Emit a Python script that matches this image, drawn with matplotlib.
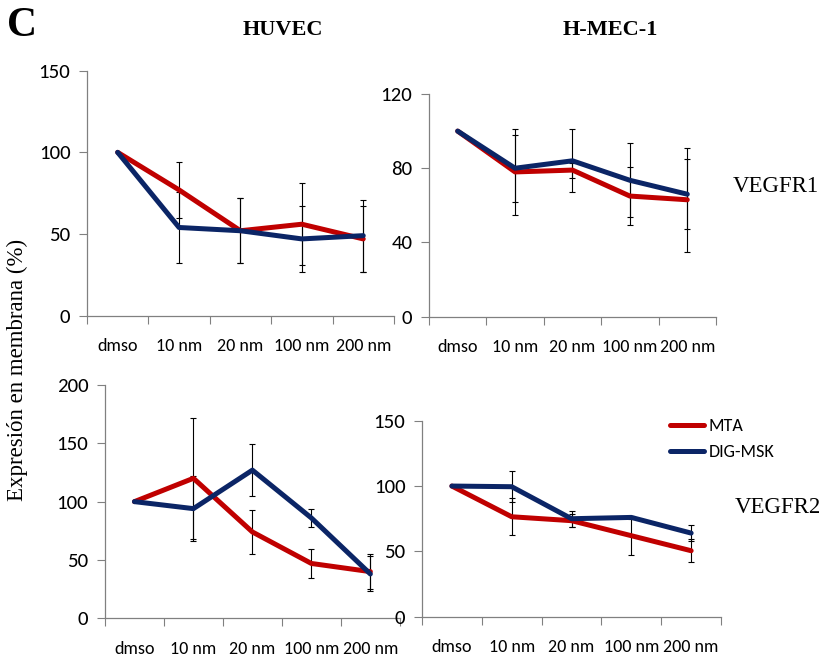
import matplotlib.pyplot as plt
import numpy as np

# categorias y datos
cats = ["dmso", "10 nm", "20 nm", "100 nm", "200 nm"]

huvec_r1_mta = [100, 77, 52, 56, 47]
huvec_r1_mta_err = [0, 17, 20, 25, 20]
huvec_r1_dig = [100, 54, 52, 47, 49]
huvec_r1_dig_err = [0, 22, 20, 20, 22]

hmec_r1_mta = [100, 78, 79, 65, 63]
hmec_r1_mta_err = [0, 23, 4, 15.5, 28]
hmec_r1_dig = [100, 80, 84, 73.5, 66]
hmec_r1_dig_err = [0, 18, 17, 20, 19]

huvec_r2_mta = [100, 120, 74, 47, 40]
huvec_r2_mta_err = [0, 52, 19, 12.5, 15]
huvec_r2_dig = [100, 94, 127, 86, 38]
huvec_r2_dig_err = [0, 28, 22, 8, 15]

hmec_r2_mta = [100, 76.5, 73.5, 62, 50.5]
hmec_r2_mta_err = [0, 14, 5, 14.5, 9]
hmec_r2_dig = [100, 99.5, 75, 76, 64]
hmec_r2_dig_err = [0, 12, 6, 1, 6]

red = '#C00000'
navy = '#0B2566'
tickfont = ['Carlito', 'DejaVu Sans']

fig = plt.figure(figsize=(8.33, 6.61), dpi=100)

def panel(rect, mta, mta_err, dig, dig_err, ymax, ystep):
    ax = fig.add_axes(rect)
    x = np.arange(len(cats)) + 0.5
    ax.errorbar(x[1:], mta[1:], yerr=mta_err[1:], fmt='none', ecolor='black',
                elinewidth=0.8, capsize=2.5, capthick=0.8, zorder=1)
    ax.errorbar(x[1:], dig[1:], yerr=dig_err[1:], fmt='none', ecolor='black',
                elinewidth=0.8, capsize=2.5, capthick=0.8, zorder=1)
    ax.plot(x, mta, color=red, lw=3.6, label='MTA', zorder=2, solid_capstyle='round')
    ax.plot(x, dig, color=navy, lw=3.6, label='DIG-MSK', zorder=3, solid_capstyle='round')
    ax.set_xlim(0, len(cats))
    ax.set_ylim(0, ymax)
    ax.set_yticks(np.arange(0, ymax + 1, ystep))
    ax.set_xticks(np.arange(len(cats) + 1))
    ax.set_xticklabels([])
    ax.set_xticks(x, minor=True)
    ax.set_xticklabels(cats, minor=True, fontsize=13, family=tickfont)
    ax.tick_params(axis='x', which='major', length=6, direction='out', color='#808080')
    ax.tick_params(axis='x', which='minor', length=0, pad=16)
    ax.tick_params(axis='y', length=6, color='#808080', pad=6)
    for lab in ax.get_yticklabels():
        lab.set_fontsize(15)
        lab.set_family(tickfont)
    for s in ['top', 'right']:
        ax.spines[s].set_visible(False)
    for s in ['left', 'bottom']:
        ax.spines[s].set_color('#808080')
        ax.spines[s].set_linewidth(0.9)
    return ax

panel([0.1044, 0.5224, 0.3685, 0.3707], huvec_r1_mta, huvec_r1_mta_err,
      huvec_r1_dig, huvec_r1_dig_err, 150, 50)
panel([0.515, 0.5209, 0.3445, 0.3369], hmec_r1_mta, hmec_r1_mta_err,
      hmec_r1_dig, hmec_r1_dig_err, 120, 40)
panel([0.126, 0.0646, 0.354, 0.353], huvec_r2_mta, huvec_r2_mta_err,
      huvec_r2_dig, huvec_r2_dig_err, 200, 50)
ax4 = panel([0.5066, 0.067, 0.359, 0.2965], hmec_r2_mta, hmec_r2_mta_err,
            hmec_r2_dig, hmec_r2_dig_err, 150, 50)

leg = ax4.legend(loc='upper left', bbox_to_anchor=(0.785, 0.392), bbox_transform=fig.transFigure,
                 frameon=False, handlelength=1.9, handletextpad=0.25, labelspacing=0.55,
                 prop={'family': tickfont, 'size': 13})

serif = 'Liberation Serif'
fig.text(0.008, 0.960, 'C', fontsize=30, fontweight='bold', family=serif, va='center')
fig.text(0.340, 0.955, 'HUVEC', fontsize=16, fontweight='bold', family=serif, ha='center', va='center')
fig.text(0.733, 0.955, 'H-MEC-1', fontsize=16, fontweight='bold', family=serif, ha='center', va='center')
fig.text(0.021, 0.44, 'Expresión en membrana (%)', fontsize=16.5, family=serif,
         rotation=90, ha='center', va='center')
fig.text(0.880, 0.718, 'VEGFR1', fontsize=16.5, family=serif, va='center')
fig.text(0.882, 0.232, 'VEGFR2', fontsize=16.5, family=serif, va='center')

fig.savefig('out.png', dpi=100)
